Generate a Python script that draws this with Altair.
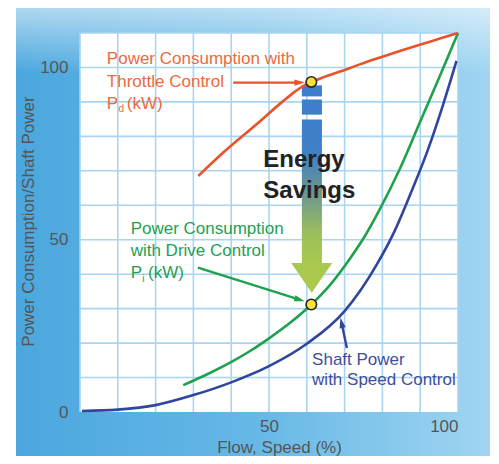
import altair as alt
import pandas as pd

# ---------------- data ----------------
red_x = [31.3, 37.9, 46.7, 53.8, 56.5, 59.0, 61.2, 64.5, 68.8, 74.0, 79.4, 85.0, 89.9, 95.0, 100.0]
red_y = [68.5, 75.3, 83.5, 90.3, 92.7, 94.6, 95.8, 97.2, 98.8, 100.9, 102.9, 104.9, 106.6, 108.3, 110.0]

green_x = [27.3, 33.0, 39.7, 45.0, 50.3, 55.5, 61.2, 66.0, 71.4, 75.5, 79.4, 84.5, 89.9, 95.0, 100.0]
green_y = [7.8, 10.6, 14.3, 17.7, 21.6, 25.8, 31.2, 36.7, 44.5, 51.3, 59.0, 70.3, 84.0, 97.0, 110.0]

blue_x = [0.5, 10.0, 20.0, 30.0, 40.0, 50.0, 60.0, 70.0, 78.5, 83.0, 87.5, 92.0, 96.0, 99.6]
blue_y = [0.3, 0.7, 2.0, 4.9, 8.6, 13.3, 19.8, 29.3, 42.8, 52.0, 63.5, 76.0, 89.0, 101.9]

point_x = [61.2, 61.2]
point_y = [95.8, 31.2]

x_ticks = [50, 100]
y_ticks = [0, 50, 100]
grid_x = [0, 10, 20, 30, 40, 50, 60, 70, 80, 90, 100]
grid_y = [10, 20, 30, 40, 50, 60, 70, 80, 90, 100, 110]

# annotation texts / anchors (data coordinates)
red_lines = ["Power Consumption with", "Throttle Control"]
red_line_y = [102.4, 95.8]
red_text_x = 7.1
green_lines = ["Power Consumption", "with Drive Control"]
green_line_y = [53.0, 46.6]
green_text_x = 13.4
blue_lines = ["Shaft Power", "with Speed Control"]
blue_line_y = [15.1, 9.3]
blue_text_x = 61.4
energy_lines = ["Energy", "Savings"]
energy_line_y = [73.0, 64.2]
energy_text_x = 48.5

# leader arrows: start -> head
red_arrow_x = [40.5, 58.1]
red_arrow_y = [95.6, 95.6]
red_head_angle = 0
green_arrow_x = [31.2, 58.1]
green_arrow_y = [41.9, 32.6]
green_head_angle = 17
blue_arrow_x = [70.6, 69.2]
blue_arrow_y = [18.6, 25.9]
blue_head_angle = 258

# big "energy savings" arrow
bar_x = [58.7, 64.0]
bar_solid_top = [94.8, 90.7]
bar_solid_bottom = [91.6, 86.3]
bar_grad_top = 84.9
bar_grad_bottom = 42.6
arrow_head_x = 61.3
arrow_head_y = 39.1

# ---------------- styling ----------------
FONT = "Liberation Sans"
RED, RED_TXT = "#e8532c", "#ec6a3f"
GREEN, GREEN_TXT = "#1ea24c", "#23a152"
BLUE, BLUE_TXT = "#2f469c", "#3d4fa0"
GRID = "#a9d5f2"
W, H = 378, 379

xs = alt.Scale(domain=[0, 100], nice=False, zero=False)
ys = alt.Scale(domain=[0, 110], nice=False, zero=False)
xaxis = alt.Axis(values=x_ticks, grid=False, domain=False, ticks=False, labelFlush=True,
                 labelFontSize=17, labelColor="#555", labelPadding=6, labelFont=FONT,
                 title="Flow, Speed (%)", titleFontSize=17, titleFont=FONT, titleColor="#555",
                 titleFontWeight="normal", titleX=199, titleY=35, titleBaseline="middle",
                 zindex=2)
yaxis = alt.Axis(values=y_ticks, grid=False, domain=False, ticks=False,
                 labelFontSize=17, labelColor="#555", labelPadding=12, labelFont=FONT,
                 title="Power Consumption/Shaft Power", titleFontSize=17, titleFont=FONT,
                 titleColor="#555", titleFontWeight="normal", titleX=-52, titleY=188,
                 titleAngle=-90, titleAlign="center", titleBaseline="middle", zindex=2)


def X(f):
    return alt.X(f, type="quantitative", scale=xs, axis=xaxis)


def Y(f):
    return alt.Y(f, type="quantitative", scale=ys, axis=yaxis)


one = pd.DataFrame({"a": [0]})

# background gradient (decoration, in pixels)
bg = alt.Chart(one).mark_rect(
    color=alt.Gradient(gradient="linear", x1=0, x2=1, y1=0, y2=0,
                       stops=[alt.GradientStop(color="#4ba7de", offset=0),
                              alt.GradientStop(color="#66b8e6", offset=0.5),
                              alt.GradientStop(color="#a3d6f2", offset=1)])
).encode(x=alt.value(-64), x2=alt.value(420), y=alt.value(-25), y2=alt.value(430))

bg_top = alt.Chart(one).mark_rect(
    color=alt.Gradient(gradient="linear", x1=0, x2=0, y1=0, y2=1,
                       stops=[alt.GradientStop(color="rgba(255,255,255,0.55)", offset=0),
                              alt.GradientStop(color="rgba(255,255,255,0)", offset=1)])
).encode(x=alt.value(-64), x2=alt.value(420), y=alt.value(-25), y2=alt.value(40))

plot_bg = alt.Chart(pd.DataFrame({"x0": [0], "x1": [100], "y0": [0], "y1": [110]})).mark_rect(
    color="white").encode(x=X("x0"), x2="x1", y=Y("y0"), y2="y1")

vgrid = alt.Chart(pd.DataFrame({"g": grid_x})).mark_rule(color=GRID, strokeWidth=1.6).encode(x=X("g"))
hgrid = alt.Chart(pd.DataFrame({"g": grid_y})).mark_rule(color=GRID, strokeWidth=1.6).encode(y=Y("g"))


def curve(xv, yv, col, sw=2.6):
    return alt.Chart(pd.DataFrame({"x": xv, "y": yv})).mark_line(
        color=col, strokeWidth=sw, interpolate="monotone").encode(x=X("x"), y=Y("y"))


red = curve(red_x, red_y, RED)
green = curve(green_x, green_y, GREEN)
blue = curve(blue_x, blue_y, BLUE)

HEAD = "M-1,-0.6L1,0L-1,0.6Z"


def leader(xv, yv, ang, col):
    df = pd.DataFrame({"x": xv, "y": yv})
    ln = alt.Chart(df).mark_line(color=col, strokeWidth=2.4).encode(x=X("x"), y=Y("y"))
    hd = alt.Chart(df.iloc[[1]]).mark_point(shape=HEAD, filled=True, color=col, size=110,
                                            angle=ang, opacity=1).encode(x=X("x"), y=Y("y"))
    return ln + hd


red_lead = leader(red_arrow_x, red_arrow_y, red_head_angle, RED)
green_lead = leader(green_arrow_x, green_arrow_y, green_head_angle, GREEN)
blue_lead = leader(blue_arrow_x, blue_arrow_y, blue_head_angle, BLUE)

# big arrow
bar_solid = alt.Chart(pd.DataFrame({"x0": [bar_x[0]] * 2, "x1": [bar_x[1]] * 2,
                                    "y0": bar_solid_top, "y1": bar_solid_bottom})).mark_rect(
    color="#3d7fca").encode(x=X("x0"), x2="x1", y=Y("y0"), y2="y1")
bar_grad = alt.Chart(pd.DataFrame({"x0": [bar_x[0]], "x1": [bar_x[1]],
                                   "y0": [bar_grad_top], "y1": [bar_grad_bottom]})).mark_rect(
    color=alt.Gradient(gradient="linear", x1=0, x2=0, y1=0, y2=1,
                       stops=[alt.GradientStop(color="#3d7fca", offset=0),
                              alt.GradientStop(color="#3f80c6", offset=0.22),
                              alt.GradientStop(color="#6a9592", offset=0.5),
                              alt.GradientStop(color="#9cbf5c", offset=0.78),
                              alt.GradientStop(color="#a8c84e", offset=1)])
).encode(x=X("x0"), x2="x1", y=Y("y0"), y2="y1")
bar_head = alt.Chart(pd.DataFrame({"x": [arrow_head_x], "y": [arrow_head_y]})).mark_point(
    shape="M-1,-0.7L1,-0.7L0,0.75Z", filled=True, color="#a8c84e", size=1681, opacity=1
).encode(x=X("x"), y=Y("y"))

points = alt.Chart(pd.DataFrame({"x": point_x, "y": point_y})).mark_circle(
    fill="#ffe135", stroke="#222222", strokeWidth=1.6, size=110, opacity=1
).encode(x=X("x"), y=Y("y"))


def texts(lines, xv, yv, col, size=17, weight="normal"):
    df = pd.DataFrame({"t": lines, "x": [xv] * len(lines), "y": yv})
    return alt.Chart(df).mark_text(align="left", baseline="middle", font=FONT, fontSize=size,
                                   fontWeight=weight, color=col).encode(
        x=X("x"), y=Y("y"), text="t:N")


red_txt = texts(red_lines, red_text_x, red_line_y, RED_TXT)
red_p = texts(["P"], red_text_x, [89.5], RED_TXT)
red_sub = texts(["d"], 10.2, [87.9], RED_TXT, size=10)
red_kw = texts(["(kW)"], 12.4, [89.5], RED_TXT)

green_txt = texts(green_lines, green_text_x, green_line_y, GREEN_TXT)
green_p = texts(["P"], green_text_x, [40.4], GREEN_TXT)
green_sub = texts(["i"], 16.5, [38.6], GREEN_TXT, size=10)
green_kw = texts(["(kW)"], 18.0, [40.4], GREEN_TXT)

blue_txt = texts(blue_lines, blue_text_x, blue_line_y, BLUE_TXT)
energy_txt = texts(energy_lines, energy_text_x, energy_line_y, "#222222", size=24, weight="bold")

chart = alt.layer(
    bg, bg_top, plot_bg, vgrid, hgrid,
    bar_solid, bar_grad, bar_head,
    blue, green, red,
    red_lead, green_lead, blue_lead,
    points,
    red_txt, red_p, red_sub, red_kw,
    green_txt, green_p, green_sub, green_kw,
    blue_txt, energy_txt,
).properties(
    width=W, height=H,
    autosize=alt.AutoSizeParams(type="none"),
    padding={"left": 72, "top": 25, "right": 32, "bottom": 44},
    background="white",
).configure_view(stroke=None)

chart.save("out.html", embed_options={"renderer": "svg", "actions": False})
